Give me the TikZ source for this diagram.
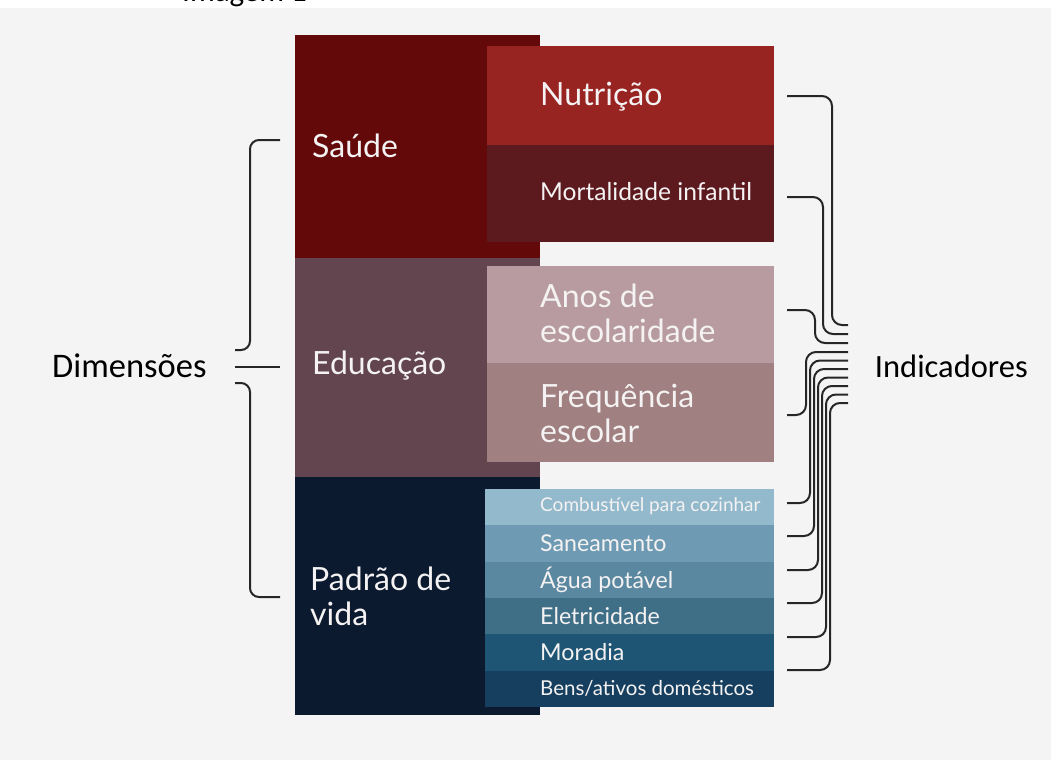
\documentclass[tikz,border=0pt]{standalone}
\usepackage{fontspec}
\setmainfont{Lato}
\newfontfamily\calfont{Carlito}
\definecolor{bgc}{HTML}{F4F4F4}
\definecolor{saudec}{HTML}{630909}
\definecolor{nutrc}{HTML}{982422}
\definecolor{mortc}{HTML}{5C1A1E}
\definecolor{educc}{HTML}{634550}
\definecolor{anosc}{HTML}{B89BA0}
\definecolor{freqc}{HTML}{A08080}
\definecolor{padrc}{HTML}{0C1A30}
\definecolor{bluea}{HTML}{93B9CC}
\definecolor{blueb}{HTML}{6E9BB3}
\definecolor{bluec}{HTML}{5A88A0}
\definecolor{blued}{HTML}{3F6E87}
\definecolor{bluee}{HTML}{1E5575}
\definecolor{bluef}{HTML}{163F5F}
\definecolor{linec}{HTML}{262626}
\definecolor{txtc}{HTML}{F4F2F2}
\begin{document}
\begin{tikzpicture}[x=1pt,y=-1pt,
  box/.style={anchor=north west, inner sep=0pt, outer sep=0pt},
  bigtxt/.style={anchor=west, inner sep=0pt, text=txtc, align=left, font=\fontsize{32}{35}\selectfont},
  midtxt/.style={anchor=west, inner sep=0pt, text=txtc, font=\fontsize{24.6}{30}\selectfont},
  smalltxt/.style={anchor=west, inner sep=0pt, text=txtc, font=\fontsize{23.2}{26}\selectfont},
  sidetxt/.style={inner sep=0pt, text=black},
  conn/.style={draw=linec, line width=2pt, rounded corners=10pt}]
\useasboundingbox (0,0) rectangle (1051,760);
\fill[bgc] (0,0) rectangle (1051,760);
\fill[white] (0,0) rectangle (1051,8);
\node[anchor=base west, inner sep=0pt, font=\calfont\fontsize{31}{31}\selectfont] (title) at (182,1.5) {Imagem 1};

% dimension blocks
\node[box, fill=saudec, minimum width=245pt, minimum height=223pt] (saude) at (295,35) {};
\node[box, fill=educc, minimum width=245pt, minimum height=219pt] (educ) at (295,258) {};
\node[box, fill=padrc, minimum width=245pt, minimum height=238pt] (padr) at (295,477) {};

% indicator blocks
\node[box, fill=nutrc, minimum width=287pt, minimum height=99pt] (nutr) at (487,46) {};
\node[box, fill=mortc, minimum width=287pt, minimum height=97pt] (mort) at (487,145) {};
\node[box, fill=anosc, minimum width=287pt, minimum height=97pt] (anos) at (487,266) {};
\node[box, fill=freqc, minimum width=287pt, minimum height=99pt] (freq) at (487,363) {};
\node[box, fill=bluea, minimum width=289pt, minimum height=36.4pt] (comb) at (485,489) {};
\node[box, fill=blueb, minimum width=289pt, minimum height=36.4pt] (sane) at (485,525.33) {};
\node[box, fill=bluec, minimum width=289pt, minimum height=36.4pt] (agua) at (485,561.67) {};
\node[box, fill=blued, minimum width=289pt, minimum height=36.4pt] (elet) at (485,598) {};
\node[box, fill=bluee, minimum width=289pt, minimum height=36.4pt] (mora) at (485,634.33) {};
\node[box, fill=bluef, minimum width=289pt, minimum height=36.4pt] (bens) at (485,670.67) {};

% texts
\node[bigtxt] (saudeT) at ([xshift=17pt,yshift=1pt]saude.west) {Saúde};
\node[bigtxt] (educT) at ([xshift=17pt,yshift=2pt]educ.west) {Educação};
\node[bigtxt] (padrT) at ([xshift=15pt]padr.west) {Padrão de\\vida};
\node[bigtxt] (nutrT) at ([xshift=53pt,yshift=-1pt]nutr.west) {Nutrição};
\node[midtxt] (mortT) at ([xshift=53pt,yshift=2pt]mort.west) {Mortalidade infantil};
\node[bigtxt] (anosT) at ([xshift=53pt,yshift=1pt]anos.west) {Anos de\\escolaridade};
\node[bigtxt] (freqT) at ([xshift=53pt,yshift=-1pt]freq.west) {Frequência\\escolar};
\node[smalltxt, font=\fontsize{19}{22}\selectfont] (combT) at ([xshift=55pt,yshift=1pt]comb.west) {Combustível para cozinhar};
\node[smalltxt] (saneT) at ([xshift=55pt]sane.west) {Saneamento};
\node[smalltxt] (aguaT) at ([xshift=55pt]agua.west) {Água potável};
\node[smalltxt] (eletT) at ([xshift=55pt]elet.west) {Eletricidade};
\node[smalltxt] (moraT) at ([xshift=55pt]mora.west) {Moradia};
\node[smalltxt, font=\fontsize{20.5}{24}\selectfont] (bensT) at ([xshift=55pt]bens.west) {Bens/ativos domésticos};

\node[sidetxt, anchor=west, font=\calfont\fontsize{34.5}{34.5}\selectfont] (dim) at (52,366) {Dimensões};
\node[sidetxt, anchor=east, font=\calfont\fontsize{32.5}{32.5}\selectfont] (ind) at (1028,366) {Indicadores};

% left brace
\coordinate (bt) at (280,140);
\coordinate (bh1) at (235,350);
\coordinate (bm0) at (235,367);
\coordinate (bm1) at (280,367);
\coordinate (bh2) at (235,383);
\coordinate (bb) at (280,597);
\draw[conn, rounded corners=9pt] (bt) -- (250,140) -- (250,350) -- (bh1);
\draw[conn] (bm0) -- (bm1);
\draw[conn, rounded corners=9pt] (bh2) -- (250,383) -- (250,597) -- (bb);

% right connectors
\foreach \n/\ys/\xv/\ye in {1/96/832/325, 2/197/823/334, 3/310/815/343, 4/415/806/352,
  5/503/810/360.5, 6/536/814/369, 7/570/818/377.5, 8/603/822/386, 9/637/826/394.5, 10/670/830/403}{
  \coordinate (s\n) at (787,\ys);
  \coordinate (e\n) at (848,\ye);
  \draw[conn] (s\n) -| (\xv,\ye) -- (e\n);
}
\end{tikzpicture}
\end{document}
